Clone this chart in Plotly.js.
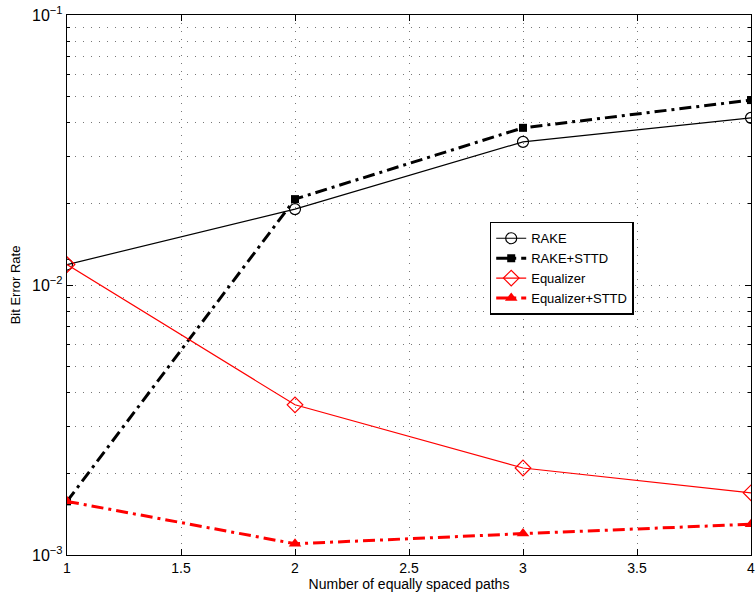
<!DOCTYPE html>
<html><head><meta charset="utf-8">
<script src="https://cdn.plot.ly/plotly-3.0.1.min.js"></script>
<style>html,body{margin:0;padding:0;background:#fff}#c{width:756px;height:597px}</style>
</head><body><div id="c"></div>
<script>
const paths = [1, 2, 3, 4];
const rake = [0.0119, 0.0191, 0.0339, 0.0416];
const rakeSTTD = [0.00158, 0.0208, 0.0382, 0.0484];
const equalizer = [0.0119, 0.0036, 0.0021, 0.0017];
const equalizerSTTD = [0.00158, 0.0011, 0.0012, 0.0013];
const yTickVals = [0.001, 0.01, 0.1];
const yTickText = ['10<sup>−3</sup>', '10<sup>−2</sup>', '10<sup>−1</sup>'];
const xTickVals = [1, 1.5, 2, 2.5, 3, 3.5, 4];
const xTickText = ['1', '1.5', '2', '2.5', '3', '3.5', '4'];

const dd = '12px,5px,3px,5px';
const traces = [
  {x: paths, y: rake, name: 'RAKE', mode: 'lines+markers',
   line: {color: '#000', width: 1.2},
   marker: {symbol: 'circle-open', size: 11, color: '#000', line: {width: 1.2}}},
  {x: paths, y: rakeSTTD, name: 'RAKE+STTD', mode: 'lines+markers',
   line: {color: '#000', width: 3, dash: dd},
   marker: {symbol: 'square', size: 8, color: '#000'}},
  {x: paths, y: equalizer, name: 'Equalizer', mode: 'lines+markers',
   line: {color: '#ff0000', width: 1.2},
   marker: {symbol: 'diamond-open', size: 12, color: '#ff0000', line: {width: 1.2}}},
  {x: paths, y: equalizerSTTD, name: 'Equalizer+STTD', mode: 'lines+markers',
   line: {color: '#ff0000', width: 3, dash: dd},
   marker: {symbol: 'triangle-up', size: 11, color: '#ff0000'}}
];

const gridCol = '#777';
const gd = '1px,7px';
const layout = {
  width: 756, height: 597,
  margin: {l: 67, r: 5, t: 15, b: 42},
  paper_bgcolor: '#fff', plot_bgcolor: '#fff',
  font: {family: 'Liberation Sans, Arial, sans-serif', size: 13, color: '#000'},
  showlegend: true,
  legend: {x: 0.618, y: 0.617, xanchor: 'left', yanchor: 'top',
    bgcolor: '#fff', bordercolor: '#000', borderwidth: 1.5,
    font: {size: 13}, tracegroupgap: 0, itemwidth: 30},
  xaxis: {range: [1, 4], tickvals: xTickVals, ticktext: xTickText,
    showline: true, mirror: 'ticks', linecolor: '#000', linewidth: 1.2,
    ticks: 'inside', ticklen: 6, tickcolor: '#000',
    showgrid: true, gridcolor: gridCol, griddash: gd, gridwidth: 1,
    zeroline: false, automargin: false, ticklabeloverflow: 'allow',
    tickfont: {size: 14},
    title: {text: 'Number of equally spaced paths', font: {size: 14}, standoff: 4}},
  yaxis: {type: 'log', range: [-3, -1], tickvals: yTickVals, ticktext: yTickText,
    showline: true, mirror: 'ticks', linecolor: '#000', linewidth: 1.2,
    ticks: 'inside', ticklen: 6, tickcolor: '#000',
    showgrid: true, gridcolor: gridCol, griddash: gd, gridwidth: 1,
    zeroline: false, automargin: false, ticklabeloverflow: 'allow',
    tickfont: {size: 16},
    minor: {dtick: 'D1', ticks: 'inside', ticklen: 3, tickcolor: '#000',
      showgrid: true, gridcolor: gridCol, griddash: gd, gridwidth: 1},
    title: {text: 'Bit Error Rate', font: {size: 13}, standoff: 8}}
};
Plotly.newPlot('c', traces, layout, {displayModeBar: false, staticPlot: true});
</script></body></html>
